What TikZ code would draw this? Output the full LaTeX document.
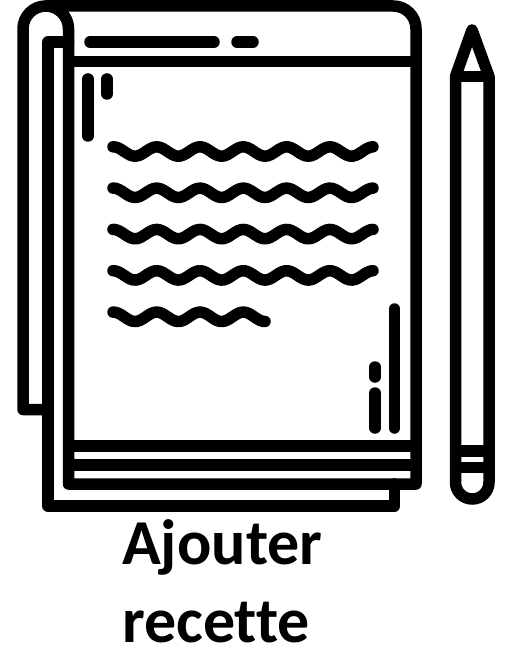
\documentclass[tikz,border=0pt]{standalone}
\usepackage{fontspec}
\setmainfont[Ligatures={NoCommon,NoRequired,NoContextual}]{Carlito}
\begin{document}
\begin{tikzpicture}[x=1pt, y=-1pt, line cap=round, line join=round]
                \tikzset{
                    inkline/.style={draw=black, line width=11.5pt},
                    bookcorner/.style={rounded corners=22.75pt},
                    caption/.style={anchor=base west, inner sep=0pt, font=\fontsize{64}{64}\selectfont\bfseries}
                }
                \useasboundingbox (0,0) rectangle (513,668);

                % Flap, top, right side and foot of the notebook
                \draw[inkline] (48,409.5) [sharp corners] -- (23,409.5) [bookcorner] -- (23,6) -- (68.5,6) -- (68.5,60)
                    [sharp corners] -- (68.5,484) -- (416,484) [bookcorner] -- (416,6) -- (45,6);
                % Page behind the cover
                \draw[inkline] (68.5,42) -- (48,42) -- (48,506) -- (394.5,506) -- (394.5,484);
                % Header and page edges
                \foreach \y in {61.5,446,465}{
                    \draw[inkline, line cap=butt] (68.5,\y)--(416,\y);
                }
                % Short strokes
                \draw[inkline] (90,42)--(214,42);
                \draw[inkline] (237,42)--(253,42);
                \draw[inkline] (88,79)--(88,136);
                \draw[inkline] (107,79)--(107,94);
                \draw[inkline] (394.5,309)--(394.5,428);
                \draw[inkline] (375,393)--(375,428);
                \draw[inkline] (375,367)--(375,377);

                % Wavy text lines
                \foreach \y/\xend in {151.5/373,192.8/373,234.1/373,275.4/373,316.8/265}{
                    \draw[inkline] plot[variable=\t, domain=113:\xend, samples=90, smooth]
                        (\t,{\y-4.7*cos(8.314*(\t-113.4))});
                }

                % Pencil
                \draw[inkline, bookcorner] (455.5,76.5) [sharp corners] -- (472,30) -- (489,76.5) -- (489,400)
                    [rounded corners=16.7pt] -- (489,499) -- (455.5,499) [sharp corners] -- (455.5,400) -- (455.5,76.5) -- cycle;
                \foreach \y in {76.5,451,467.5}{
                    \draw[inkline, line cap=butt] (455.5,\y)--(489,\y);
                }

                % Caption
                \node[caption] (ajouter) at (122,564) {Ajouter};
                \node[caption] (recette) at (122,642) {recette};

            \end{tikzpicture}
\end{document}
